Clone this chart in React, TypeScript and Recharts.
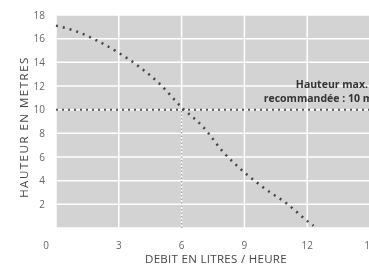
import React from 'react';
import {
  ComposedChart,
  Line,
  XAxis,
  YAxis,
  CartesianGrid,
  ReferenceLine,
} from 'recharts';

const debit = [0, 1, 2, 3, 4, 5, 6, 7, 8, 9, 10, 11, 12, 12.3];
const hauteur = [17.1, 16.6, 15.8, 14.8, 13.6, 12.1, 10.2, 8.6, 6.4, 4.7, 3.3, 2.1, 0.6, 0.2];
const xTicks = [0, 3, 6, 9, 12, 15];
const yTicks = [0, 2, 4, 6, 8, 10, 12, 14, 16, 18];
const hauteurMax = 10;
const debitMax = 6;

const data = debit.map((d, i) => ({ debit: d, hauteur: hauteur[i] }));

const FONT = '"Open Sans", "DejaVu Sans", sans-serif';

const XTick = (props: any) => {
  const { x, y, payload } = props;
  const dx = payload.value === 0 ? -10 : 0;
  return (
    <text x={x + dx} y={y + 13} textAnchor="middle" fontSize={10} fill="#666" fontFamily={FONT}>
      {payload.value}
    </text>
  );
};

const YTick = (props: any) => {
  const { x, y, payload } = props;
  if (payload.value === 0) return null;
  return (
    <text x={x - 3} y={y + 3.5} textAnchor="end" fontSize={10} fill="#666" fontFamily={FONT}>
      {payload.value}
    </text>
  );
};

const App: React.FC = () => {
  return (
    <div style={{ position: 'fixed', top: 0, left: 0, width: 369, height: 266, overflow: 'hidden' }}>
      <ComposedChart
        width={380}
        height={266}
        data={data}
        margin={{ top: 15, right: 10, bottom: 0, left: 0 }}
      >
        <CartesianGrid fill="#d3d3d3" stroke="#ffffff" strokeWidth={1.5} />
        <XAxis
          type="number"
          dataKey="debit"
          domain={[0, 15]}
          ticks={xTicks}
          interval={0}
          axisLine={false}
          tickLine={false}
          tick={<XTick />}
          height={38}
        />
        <YAxis
          type="number"
          domain={[0, 18]}
          ticks={yTicks}
          interval={0}
          axisLine={false}
          tickLine={false}
          tick={<YTick />}
          width={56}
        />
        <ReferenceLine
          segment={[
            { x: debitMax, y: 0 },
            { x: debitMax, y: hauteurMax },
          ]}
          stroke="#a8a8a8"
          strokeWidth={1.5}
          strokeDasharray="1.5 2"
        />
        <ReferenceLine
          y={hauteurMax}
          stroke="#555"
          strokeWidth={2}
          strokeDasharray="2 4"
        />
        <Line
          type="monotone"
          dataKey="hauteur"
          stroke="#444"
          strokeWidth={2.5}
          strokeDasharray="2 5"
          dot={false}
          isAnimationActive={false}
        />
        <text x={368} y={88} textAnchor="end" fontSize={10.5} fontWeight="bold" fill="#333" fontFamily={FONT}>
          Hauteur max.
        </text>
        <text x={373} y={102} textAnchor="end" fontSize={10.5} fontWeight="bold" fill="#333" fontFamily={FONT}>
          recommandée : 10 m
        </text>
        <text
          x={216}
          y={263}
          textAnchor="middle"
          fontSize={11.5}
          letterSpacing={0.3}
          fill="#444"
          fontFamily={FONT}
        >
          DEBIT EN LITRES / HEURE
        </text>
        <text
          x={23}
          y={127}
          transform="rotate(-90 23 127)"
          textAnchor="middle"
          dominantBaseline="central"
          fontSize={11.5}
          letterSpacing={1.5}
          fill="#444"
          fontFamily={FONT}
        >
          HAUTEUR EN METRES
        </text>
      </ComposedChart>
    </div>
  );
};

export default App;
